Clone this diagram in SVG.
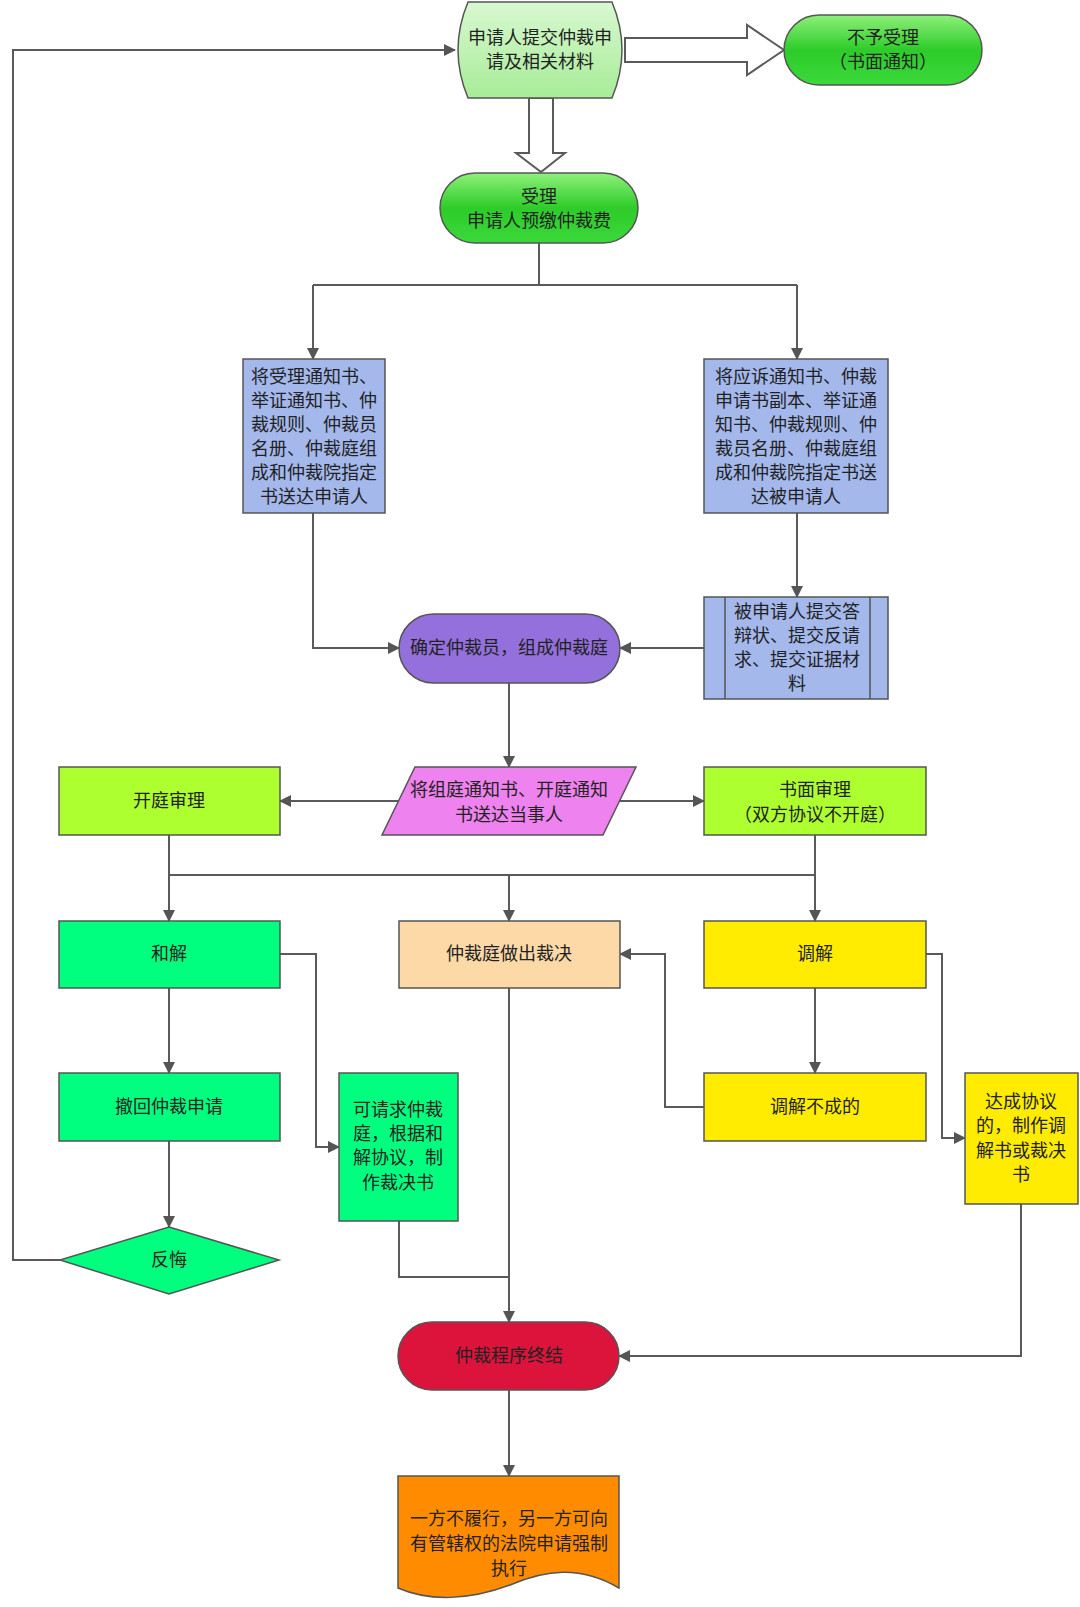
<svg xmlns="http://www.w3.org/2000/svg" width="1080" height="1607" viewBox="0 0 1080 1607">
<defs>
<style>
text{font-family:"Liberation Serif","Noto Sans CJK SC",serif;font-size:18px;text-anchor:middle;dominant-baseline:central;fill:#222}
.c path,.c line{fill:none;stroke:#5a5a5a;stroke-width:2}
.n{stroke:#555;stroke-width:1.5}
</style>
<marker id="ar" viewBox="0 0 12 12" refX="11" refY="6" markerWidth="12" markerHeight="12" markerUnits="userSpaceOnUse" orient="auto"><path d="M0,0 L12,6 L0,12 Z" fill="#555"/></marker>
<linearGradient id="gg" x1="0" y1="0" x2="0" y2="1"><stop offset="0" stop-color="#8ef07a"/><stop offset="0.5" stop-color="#2ecc2a"/><stop offset="1" stop-color="#3ad83a"/></linearGradient>
<linearGradient id="lg" x1="0" y1="0" x2="0" y2="1"><stop offset="0" stop-color="#d8f8d0"/><stop offset="1" stop-color="#a8ec98"/></linearGradient>
<linearGradient id="rh" x1="0" y1="0" x2="0" y2="1"><stop offset="0" stop-color="#ff9aa0"/><stop offset="0.5" stop-color="#f02030"/><stop offset="1" stop-color="#e8404a"/></linearGradient>
<linearGradient id="rv" x1="0" y1="0" x2="1" y2="0"><stop offset="0" stop-color="#ff9aa0"/><stop offset="0.5" stop-color="#f02030"/><stop offset="1" stop-color="#e8404a"/></linearGradient>
</defs>
<rect width="1080" height="1607" fill="#fff"/>
<g class="c" id="connectors">
<path d="M60,1260 H13 V50 H455" marker-end="url(#ar)"/>
<path d="M539,243 V285 M313,285 H797"/>
<path d="M313,285 V359" marker-end="url(#ar)"/>
<path d="M797,285 V359" marker-end="url(#ar)"/>
<path d="M313,513 V648 H399" marker-end="url(#ar)"/>
<path d="M797,513 V597" marker-end="url(#ar)"/>
<path d="M704,648 H620" marker-end="url(#ar)"/>
<path d="M509,683 V767" marker-end="url(#ar)"/>
<path d="M398,801 H280" marker-end="url(#ar)"/>
<path d="M620,801 H704" marker-end="url(#ar)"/>
<path d="M169,835 V921" marker-end="url(#ar)"/>
<path d="M169,875 H815"/>
<path d="M815,835 V921" marker-end="url(#ar)"/>
<path d="M509,875 V921" marker-end="url(#ar)"/>
<path d="M280,954 H316 V1147 H339" marker-end="url(#ar)"/>
<path d="M169,988 V1073" marker-end="url(#ar)"/>
<path d="M169,1141 V1227" marker-end="url(#ar)"/>
<path d="M509,988 V1322" marker-end="url(#ar)"/>
<path d="M399,1221 V1277 H509"/>
<path d="M926,954 H942 V1138 H965" marker-end="url(#ar)"/>
<path d="M815,988 V1073" marker-end="url(#ar)"/>
<path d="M704,1107 H665 V954 H620" marker-end="url(#ar)"/>
<path d="M1021,1204 V1356 H619" marker-end="url(#ar)"/>
<path d="M509,1390 V1476" marker-end="url(#ar)"/>
<path d="M625,38 H747 V25 L784,50 L747,75 V62 H625 Z" fill="url(#rh)" stroke="#d03040" stroke-width="1"/>
<path d="M529,98 V153 H516 L541,172 L565,153 H553 V98 Z" fill="url(#rv)" stroke="#d03040" stroke-width="1"/>
</g>
<g id="n1"><path class="n" d="M468,2 H612 Q632,50 612,98 H468 Q448,50 468,2 Z" fill="url(#lg)"/><text x="540" y="38">申请人提交仲裁申</text><text x="540" y="62">请及相关材料</text></g>
<g id="n2"><rect class="n" x="784" y="15" width="198" height="70" rx="35" fill="url(#gg)" stroke="#2a9a2a"/><text x="883" y="38">不予受理</text><text x="883" y="62">（书面通知）</text></g>
<g id="n3"><rect class="n" x="440" y="173" width="198" height="70" rx="35" fill="url(#gg)" stroke="#2a9a2a"/><text x="539" y="197">受理</text><text x="539" y="221">申请人预缴仲裁费</text></g>
<g id="n4"><rect class="n" x="243" y="359" width="142" height="154" fill="#a4b8ec"/>
<text x="314" y="377">将受理通知书、</text><text x="314" y="401">举证通知书、仲</text><text x="314" y="425">裁规则、仲裁员</text><text x="314" y="449">名册、仲裁庭组</text><text x="314" y="473">成和仲裁院指定</text><text x="314" y="497">书送达申请人</text></g>
<g id="n5"><rect class="n" x="704" y="359" width="184" height="154" fill="#a4b8ec"/>
<text x="796" y="377">将应诉通知书、仲裁</text><text x="796" y="401">申请书副本、举证通</text><text x="796" y="425">知书、仲裁规则、仲</text><text x="796" y="449">裁员名册、仲裁庭组</text><text x="796" y="473">成和仲裁院指定书送</text><text x="796" y="497">达被申请人</text></g>
<g id="n6"><rect class="n" x="704" y="597" width="184" height="102" fill="#a4b8ec"/><line class="n" x1="725" y1="597" x2="725" y2="699"/><line class="n" x1="870" y1="597" x2="870" y2="699"/>
<text x="797" y="612">被申请人提交答</text><text x="797" y="636">辩状、提交反请</text><text x="797" y="660">求、提交证据材</text><text x="797" y="684">料</text></g>
<g id="n7"><rect class="n" x="399" y="614" width="221" height="69" rx="34.5" fill="#9370db"/><text x="509" y="648">确定仲裁员，组成仲裁庭</text></g>
<g id="n8"><path class="n" d="M415,767 H636 L603,835 H382 Z" fill="#ee82ee"/><text x="509" y="790">将组庭通知书、开庭通知</text><text x="509" y="815">书送达当事人</text></g>
<g id="n9"><rect class="n" x="59" y="767" width="221" height="68" fill="#adff2f"/><text x="169" y="801">开庭审理</text></g>
<g id="n10"><rect class="n" x="704" y="767" width="222" height="68" fill="#adff2f"/><text x="815" y="790">书面审理</text><text x="815" y="815">（双方协议不开庭）</text></g>
<g id="n11"><rect class="n" x="59" y="921" width="221" height="67" fill="#00ff7f"/><text x="169" y="954">和解</text></g>
<g id="n12"><rect class="n" x="399" y="921" width="221" height="67" fill="#fdd9a8"/><text x="509" y="954">仲裁庭做出裁决</text></g>
<g id="n13"><rect class="n" x="704" y="921" width="222" height="67" fill="#ffec00"/><text x="815" y="954">调解</text></g>
<g id="n14"><rect class="n" x="59" y="1073" width="221" height="68" fill="#00ff7f"/><text x="169" y="1107">撤回仲裁申请</text></g>
<g id="n15"><rect class="n" x="339" y="1073" width="119" height="148" fill="#00ff7f"/><text x="398" y="1110">可请求仲裁</text><text x="398" y="1134">庭，根据和</text><text x="398" y="1158">解协议，制</text><text x="398" y="1183">作裁决书</text></g>
<g id="n16"><rect class="n" x="704" y="1073" width="222" height="68" fill="#ffec00"/><text x="815" y="1107">调解不成的</text></g>
<g id="n17"><rect class="n" x="965" y="1073" width="113" height="131" fill="#ffec00"/><text x="1021" y="1102">达成协议</text><text x="1021" y="1126">的，制作调</text><text x="1021" y="1151">解书或裁决</text><text x="1021" y="1175">书</text></g>
<g id="n18"><path class="n" d="M169,1227 L279,1260 L169,1294 L60,1260 Z" fill="#00ff7f"/><text x="169" y="1260">反悔</text></g>
<g id="n19"><rect class="n" x="398" y="1322" width="221" height="68" rx="34" fill="#dc143c"/><text x="509" y="1356" fill="#6a1010">仲裁程序终结</text></g>
<g id="n20"><path class="n" d="M398,1476 H619 V1588 C580,1565 545,1570 510,1585 C470,1600 430,1602 398,1588 Z" fill="#ff8c00"/><text x="509" y="1519" fill="#5a1a00">一方不履行，另一方可向</text><text x="509" y="1544" fill="#5a1a00">有管辖权的法院申请强制</text><text x="509" y="1569" fill="#5a1a00">执行</text></g>
</svg>
